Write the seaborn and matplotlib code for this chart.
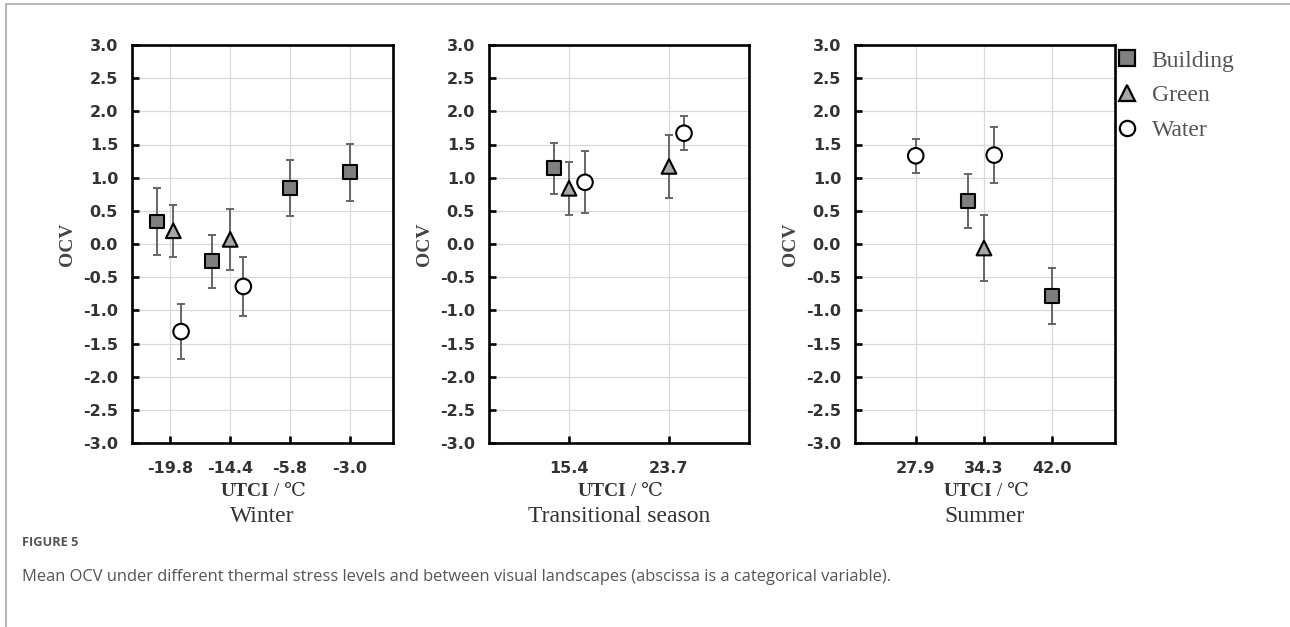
import numpy as np
import pandas as pd
import matplotlib
matplotlib.use("Agg")
import matplotlib.pyplot as plt
from matplotlib.lines import Line2D
from matplotlib.font_manager import FontProperties
import seaborn as sns

# ---------------- data ----------------
landscapes = ["Building", "Green", "Water"]
panel_titles = ["Winter", "Transitional season", "Summer"]

winter_ticks = ["-19.8", "-14.4", "-5.8", "-3.0"]
winter_building_utci = ["-19.8", "-14.4", "-5.8", "-3.0"]
winter_building_mean = [0.34, -0.26, 0.84, 1.08]
winter_building_sd = [0.51, 0.40, 0.42, 0.43]
winter_green_utci = ["-19.8", "-14.4"]
winter_green_mean = [0.20, 0.07]
winter_green_sd = [0.39, 0.46]
winter_water_utci = ["-19.8", "-14.4"]
winter_water_mean = [-1.32, -0.64]
winter_water_sd = [0.41, 0.45]

trans_ticks = ["15.4", "23.7"]
trans_building_utci = ["15.4"]
trans_building_mean = [1.14]
trans_building_sd = [0.38]
trans_green_utci = ["15.4", "23.7"]
trans_green_mean = [0.84, 1.17]
trans_green_sd = [0.40, 0.48]
trans_water_utci = ["15.4", "23.7"]
trans_water_mean = [0.93, 1.67]
trans_water_sd = [0.47, 0.26]

summer_ticks = ["27.9", "34.3", "42.0"]
summer_building_utci = ["34.3", "42.0"]
summer_building_mean = [0.65, -0.78]
summer_building_sd = [0.41, 0.42]
summer_green_utci = ["34.3"]
summer_green_mean = [-0.06]
summer_green_sd = [0.50]
summer_water_utci = ["27.9", "34.3"]
summer_water_mean = [1.33, 1.34]
summer_water_sd = [0.26, 0.42]

y_ticks = [-3.0, -2.5, -2.0, -1.5, -1.0, -0.5, 0.0, 0.5, 1.0, 1.5, 2.0, 2.5, 3.0]

# ---------------- layout (horizontal nudges in category units) ----------------
nudges = {
    0: {"Building": [-0.22, -0.30, 0.0, 0.0], "Green": [0.05, 0.0], "Water": [0.18, 0.22]},
    1: {"Building": [-0.15], "Green": [0.0, 0.0], "Water": [0.16, 0.15]},
    2: {"Building": [-0.23, 0.0], "Green": [0.0], "Water": [0.0, 0.15]},
}
xlims = [(-0.64, 3.72), (-0.80, 1.80), (-0.89, 2.92)]
W, H = 1290, 627
axes_px = [(132, 45, 393, 443), (489, 45, 749, 443), (855, 45, 1115, 443)]

panels = [
    (winter_ticks,
     {"Building": (winter_building_utci, winter_building_mean, winter_building_sd),
      "Green": (winter_green_utci, winter_green_mean, winter_green_sd),
      "Water": (winter_water_utci, winter_water_mean, winter_water_sd)}),
    (trans_ticks,
     {"Building": (trans_building_utci, trans_building_mean, trans_building_sd),
      "Green": (trans_green_utci, trans_green_mean, trans_green_sd),
      "Water": (trans_water_utci, trans_water_mean, trans_water_sd)}),
    (summer_ticks,
     {"Building": (summer_building_utci, summer_building_mean, summer_building_sd),
      "Green": (summer_green_utci, summer_green_mean, summer_green_sd),
      "Water": (summer_water_utci, summer_water_mean, summer_water_sd)}),
]

sns.set_style("white")
plt.rcParams["font.family"] = ["DejaVu Sans"]

palette = {"Building": "#7f7f7f", "Green": "#a6a6a6", "Water": "#ffffff"}
markers = {"Building": "s", "Green": "^", "Water": "o"}
sizes = {"Building": 100, "Green": 112, "Water": 125}

serif = ["Liberation Serif", "DejaVu Serif"]

fig = plt.figure(figsize=(W / 100, H / 100), dpi=100)

for i, (ticks, series) in enumerate(panels):
    l, t, r, b = axes_px[i]
    ax = fig.add_axes([l / W, 1 - b / H, (r - l) / W, (b - t) / H])
    rows = []
    for name in landscapes:
        utci, mean, sd = series[name]
        for j, (u, m, s) in enumerate(zip(utci, mean, sd)):
            rows.append({"landscape": name, "utci": u, "mean": m, "sd": s,
                         "x": ticks.index(u) + nudges[i][name][j]})
    df = pd.DataFrame(rows)

    ax.errorbar(df["x"], df["mean"], yerr=df["sd"], fmt="none", ecolor="#666666",
                elinewidth=1.4, capsize=2.8, capthick=1.4, zorder=2)
    sns.scatterplot(data=df, x="x", y="mean", hue="landscape", style="landscape",
                    size="landscape", sizes=sizes, hue_order=landscapes,
                    style_order=landscapes, size_order=landscapes,
                    palette=palette, markers=markers, edgecolor="black",
                    linewidth=1.5, legend=False, ax=ax, zorder=3)

    ax.set_xlim(*xlims[i])
    ax.set_ylim(-3, 3)
    ax.set_xticks(range(len(ticks)))
    ax.set_xticklabels(ticks, fontweight="bold")
    ax.set_yticks(y_ticks)
    ax.set_yticklabels([f"{v:.1f}" for v in y_ticks], fontweight="bold")
    ax.grid(True, color="#d9d9d9", lw=0.9)
    ax.set_axisbelow(True)
    for sp in ax.spines.values():
        sp.set_visible(True)
        sp.set_color("black")
        sp.set_linewidth(1.9)
    ax.tick_params(axis="both", direction="in", length=5, width=1.9, color="black",
                   labelsize=11.5, labelcolor="#333333", top=False, right=False,
                   left=True, bottom=True)
    ax.tick_params(axis="y", pad=10)
    ax.tick_params(axis="x", pad=13)
    ax.set_xlabel("")
    ax.set_ylabel("OCV", family=serif, fontweight="bold", fontsize=14,
                  color="#444444", labelpad=5)

    t1 = ax.annotate("UTCI", xy=(0.5, 0), xycoords="axes fraction",
                     xytext=(5, -35), textcoords="offset points",
                     ha="right", va="center", family=serif, fontweight="bold",
                     fontsize=14, color="#333333")
    ax.annotate(" / \u2103", xy=(1, 0.5), xycoords=t1, ha="left", va="center",
                family=serif, fontsize=14, color="#333333")
    ax.annotate(panel_titles[i], xy=(0.5, 0), xycoords="axes fraction",
                xytext=(0, -53), textcoords="offset points", ha="center",
                va="center", family=serif, fontsize=17, color="#333333")

# legend
handles = [Line2D([], [], linestyle="none", marker=markers[n], markersize=11,
                  markerfacecolor=palette[n], markeredgecolor="black",
                  markeredgewidth=1.6) for n in landscapes]
fig.legend(handles, landscapes, loc="upper left",
           bbox_to_anchor=(1115 / W, 1 - 50 / H), frameon=False,
           prop=FontProperties(family=serif, size=17), labelcolor="#555555",
           handlelength=1.0, handletextpad=0.55, labelspacing=0.56,
           borderpad=0, borderaxespad=0)

# frame lines and caption
fig.add_artist(Line2D([6 / W, 1], [1 - 4 / H, 1 - 4 / H], transform=fig.transFigure,
                      color="#aaaaaa", lw=1.2))
fig.add_artist(Line2D([6 / W, 6 / W], [0, 1 - 4 / H], transform=fig.transFigure,
                      color="#aaaaaa", lw=1.2))
fig.text(22 / W, 1 - 542 / H, "FIGURE 5", family=["Open Sans", "DejaVu Sans"],
         fontsize=9.2, color="#555555", va="center", ha="left", fontweight="bold")
fig.text(22 / W, 1 - 577 / H,
         "Mean OCV under different thermal stress levels and between visual landscapes "
         "(abscissa is a categorical variable).",
         family=["Open Sans", "DejaVu Sans"], fontsize=11.9, color="#555555",
         va="center", ha="left")

fig.savefig("out.png", dpi=100)
